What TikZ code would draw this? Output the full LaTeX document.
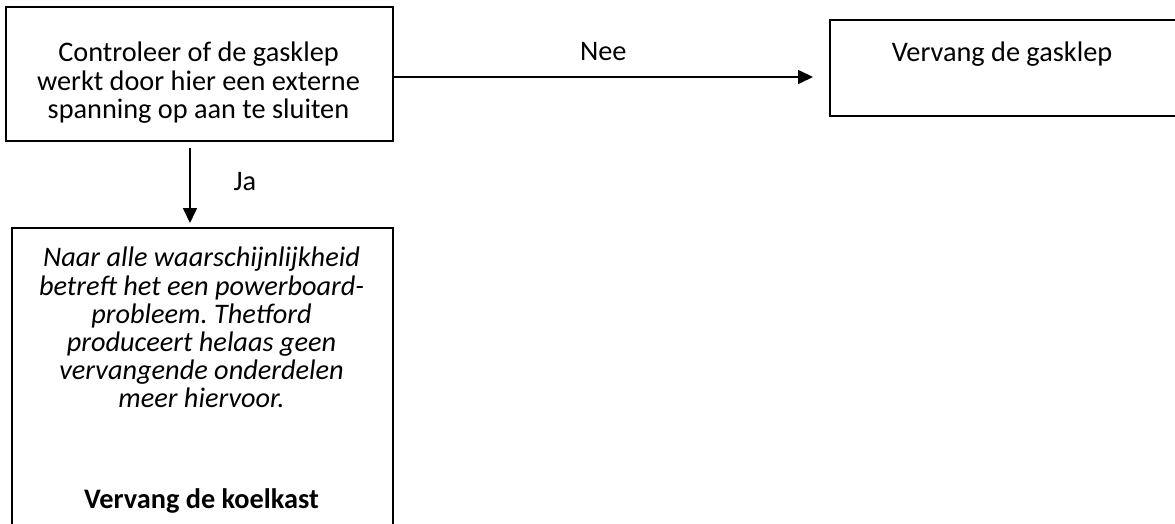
\documentclass[tikz,border=0pt]{standalone}
\usepackage{fontspec}
\setmainfont{Carlito}
\usetikzlibrary{arrows.meta}
\frenchspacing
\begin{document}
\begin{tikzpicture}[x=1pt,y=-1pt,
  box/.style={draw=black, line width=1.6pt, rectangle, inner sep=0pt},
  txt/.style={inner sep=0pt, align=center, font=\fontsize{28.3}{28.2}\selectfont},
  conn/.style={line width=1.6pt, -{Triangle[length=15pt,width=14pt]}}]
\clip (0,0) rectangle (1175,523);
\useasboundingbox (0,0) rectangle (1175,523);
% boxes
\node[box, minimum width=387pt, minimum height=134pt, anchor=north west] (b1) at (5,6) {};
\node[box, minimum width=380pt, minimum height=96pt, anchor=north west] (b2) at (829,19) {};
\node[box, minimum width=381pt, minimum height=320pt, anchor=north west] (b3) at (11,227) {};
% texts
\node[txt, anchor=north] (t1) at (198.5,42) {Controleer of de gasklep\\werkt door hier een externe\\spanning op aan te sluiten};
\node[txt, anchor=base] (t2) at (1002,61) {Vervang de gasklep};
\node[txt, anchor=north, font=\fontsize{28.3}{28.2}\selectfont\itshape] (t3) at (201.5,247) {Naar alle waarschijnlijkheid\\betreft het een powerboard-\\probleem. Thetford\\produceert helaas geen\\vervangende onderdelen\\meer hiervoor.};
\node[txt, anchor=base, font=\fontsize{28.3}{28.2}\selectfont\bfseries] (t4) at (201.5,508) {Vervang de koelkast};
% connectors
\coordinate (nstart) at (b1.east |- 0,77);
\coordinate (nend) at (813,77);
\draw[conn] (nstart) -- (nend) node[midway, txt, anchor=base, yshift=17pt] (nee) {Nee};
\coordinate (jstart) at (190,148);
\coordinate (jend) at (190,223);
\draw[conn] (jstart) -- (jend);
\node[txt, anchor=base] (ja) at (245,190) {Ja};
\end{tikzpicture}
\end{document}
